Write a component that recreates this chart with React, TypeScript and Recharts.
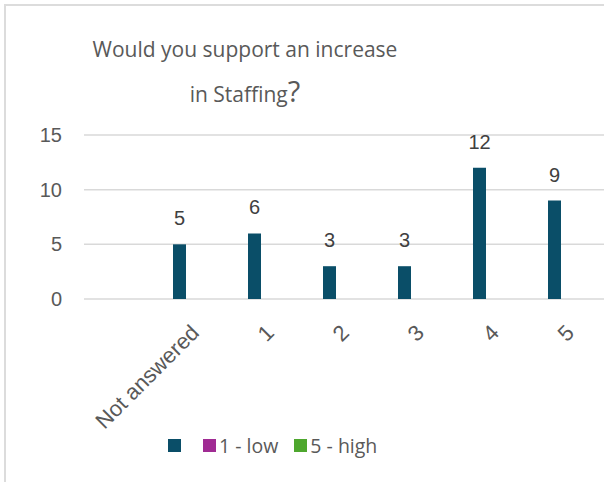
import React from 'react';
import { BarChart, Bar, XAxis, YAxis, CartesianGrid, LabelList } from 'recharts';

const categories = ['Not answered', '1', '2', '3', '4', '5'];
const counts = [5, 6, 3, 3, 12, 9];
const yTicks = [0, 5, 10, 15];
const legendNames = ['', '1 - low', '5 - high'];
const legendColors = ['#0A4E68', '#A02B93', '#4EA72E'];

const data = categories.map((c, i) => ({ category: c, count: counts[i] }));

const textColor = '#595959';
const numFont = '"Liberation Sans", Arial, sans-serif';
const titleFont = '"Open Sans", Lato, sans-serif';

const XTick = (props: any) => {
  const { x, y, payload } = props;
  const ax = x + 21;
  const ay = y + 27;
  return (
    <text
      x={ax}
      y={ay}
      textAnchor="end"
      transform={`rotate(-45, ${ax}, ${ay})`}
      fill={textColor}
      fontSize={22}
      fontFamily={numFont}
    >
      {payload.value}
    </text>
  );
};

const YTick = (props: any) => {
  const { y, payload } = props;
  return (
    <text x={62} y={y + 7} textAnchor="end" fill={textColor} fontSize={20} fontFamily={numFont}>
      {payload.value}
    </text>
  );
};

export default function App() {
  return (
    <div style={{ position: 'fixed', left: 0, top: 0, width: 604, height: 482, overflow: 'hidden', background: '#fff' }}>
      <div
        style={{
          position: 'absolute',
          left: 4,
          top: 4,
          width: 700,
          height: 600,
          border: '2px solid #dcdcdc',
        }}
      />
      <div
        style={{
          position: 'absolute',
          left: 45,
          top: 28,
          width: 400,
          textAlign: 'center',
          fontFamily: titleFont,
          fontSize: 21,
          color: textColor,
          lineHeight: '42px',
        }}
      >
        <div>Would you support an increase</div>
        <div>
          in Staffing<span style={{ fontSize: 29 }}>?</span>
        </div>
      </div>
      <div style={{ position: 'absolute', left: 0, top: 0 }}>
        <BarChart width={604} height={482} data={data} margin={{ top: 135, right: 0, left: 0, bottom: 123 }}>
          <CartesianGrid vertical={false} stroke="#d9d9d9" strokeWidth={1.5} />
          <XAxis
            dataKey="category"
            axisLine={false}
            tickLine={false}
            interval={0}
            height={60}
            padding={{ left: 58, right: 12 }}
            tick={<XTick />}
          />
          <YAxis
            width={84}
            domain={[0, 15]}
            ticks={yTicks}
            axisLine={false}
            tickLine={false}
            tick={<YTick />}
          />
          <Bar dataKey="count" fill={legendColors[0]} barSize={13} isAnimationActive={false}>
            <LabelList
              dataKey="count"
              position="top"
              offset={19}
              fill="#404040"
              fontSize={20}
              fontFamily={numFont}
            />
          </Bar>
        </BarChart>
      </div>
      <div
        style={{
          position: 'absolute',
          left: 168,
          top: 432,
          display: 'flex',
          alignItems: 'center',
          fontFamily: titleFont,
          fontSize: 19.5,
          color: textColor,
        }}
      >
        {legendNames.map((name, i) => (
          <div key={i} style={{ display: 'flex', alignItems: 'center', marginRight: i === 0 ? 19 : 16 }}>
            <span
              style={{ width: 13, height: 13, background: legendColors[i], display: 'inline-block', marginRight: 3 }}
            />
            <span>{name}</span>
          </div>
        ))}
      </div>
    </div>
  );
}
